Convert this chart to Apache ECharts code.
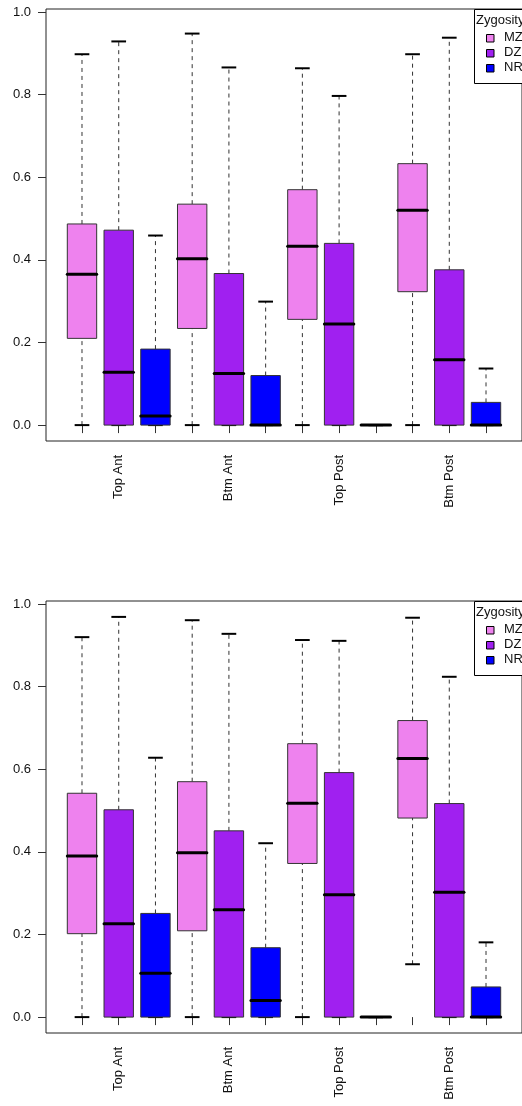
<!DOCTYPE html>
<html>
<head>
<meta charset="utf-8">
<script src="https://cdn.jsdelivr.net/npm/echarts@6/dist/echarts.min.js"></script>
<style>html,body{margin:0;padding:0;background:#fff;}#c{width:522px;height:1106px;}</style>
</head>
<body>
<div id="c"></div>
<script>
// Categories and groups
const categories = ['Top Ant', 'Btm Ant', 'Top Post', 'Btm Post'];
const zygosity = ['MZ', 'DZ', 'NR'];
const zygColors = ['#EE82EE', '#A020F0', '#0000FF'];
const yTicks = [0, 0.2, 0.4, 0.6, 0.8, 1.0];
const xTicks = [1, 2, 3, 4, 5, 6, 7, 8, 9, 10, 11, 12];
const xLabelPos = [2, 5, 8, 11];

// Box stats per category: [min, Q1, median, Q3, max]
// Panel 1 (top)
const p1MZ = [[0, 0.210, 0.365, 0.487, 0.898], [0, 0.234, 0.403, 0.535, 0.948], [0, 0.256, 0.433, 0.570, 0.864], [0, 0.323, 0.520, 0.633, 0.898]];
const p1DZ = [[0, 0, 0.128, 0.472, 0.929], [0, 0, 0.125, 0.367, 0.866], [0, 0, 0.245, 0.440, 0.797], [0, 0, 0.158, 0.376, 0.938]];
const p1NR = [[0, 0, 0.022, 0.184, 0.459], [0, 0, 0, 0.120, 0.299], [0, 0, 0, 0, 0], [0, 0, 0, 0.055, 0.137]];
// Panel 2 (bottom)
const p2MZ = [[0, 0.202, 0.390, 0.542, 0.920], [0, 0.209, 0.398, 0.570, 0.961], [0, 0.372, 0.518, 0.662, 0.913], [0.128, 0.482, 0.626, 0.718, 0.967]];
const p2DZ = [[0, 0, 0.226, 0.502, 0.969], [0, 0, 0.260, 0.451, 0.928], [0, 0, 0.296, 0.592, 0.911], [0, 0, 0.302, 0.517, 0.824]];
const p2NR = [[0, 0, 0.106, 0.251, 0.628], [0, 0, 0.040, 0.168, 0.421], [0, 0, 0, 0, 0], [0, 0, 0, 0.073, 0.181]];

const panels = [[p1MZ, p1DZ, p1NR], [p2MZ, p2DZ, p2NR]];

const FONT = "'Liberation Sans', Arial, sans-serif";
const TXT = '#111';

function renderBox(params, api) {
  const x = api.value(0);
  const v = [1, 2, 3, 4, 5].map(i => api.value(i));
  const cx = api.coord([x, 0])[0];
  const y = v.map(val => api.coord([x, val])[1]);
  const bw = api.size([0.8, 0])[0];
  const sw = api.size([0.4, 0])[0];
  const color = api.visual('color');
  const dash = { stroke: '#333', lineWidth: 1, lineDash: [4, 4] };
  return {
    type: 'group',
    children: [
      { type: 'line', shape: { x1: cx, y1: y[3], x2: cx, y2: y[4] }, style: dash },
      { type: 'line', shape: { x1: cx, y1: y[0], x2: cx, y2: y[1] }, style: dash },
      { type: 'line', shape: { x1: cx - sw / 2, y1: y[4], x2: cx + sw / 2, y2: y[4] }, style: { stroke: '#000', lineWidth: 2 } },
      { type: 'line', shape: { x1: cx - sw / 2, y1: y[0], x2: cx + sw / 2, y2: y[0] }, style: { stroke: '#000', lineWidth: 2 } },
      { type: 'rect', shape: { x: cx - bw / 2, y: y[3], width: bw, height: y[1] - y[3] }, style: { fill: color, stroke: '#333', lineWidth: 1 } },
      { type: 'line', shape: { x1: cx - bw / 2, y1: y[2], x2: cx + bw / 2, y2: y[2] }, style: { stroke: '#000', lineWidth: 3, lineCap: 'round' } }
    ]
  };
}

const gridTops = [9, 601];
const grids = [], xAxes = [], yAxes = [], series = [], graphics = [];

gridTops.forEach((top, pi) => {
  grids.push({ left: 46, top: top, width: 482, height: 432, show: true, borderColor: '#222', borderWidth: 1, backgroundColor: 'transparent' });
  xAxes.push({
    type: 'value', gridIndex: pi, min: 0.02, max: 12.98,
    axisLine: { show: false }, splitLine: { show: false },
    axisTick: { show: true, customValues: xTicks, length: 8, lineStyle: { color: '#333', width: 1 } },
    axisLabel: { customValues: xLabelPos, formatter: val => categories[Math.round((val - 2) / 3)], rotate: 90, margin: 14, fontSize: 13, fontFamily: FONT, color: TXT }
  });
  yAxes.push({
    type: 'value', gridIndex: pi, min: -0.0385, max: 1.0075,
    axisLine: { show: false }, splitLine: { show: false },
    axisTick: { show: true, customValues: yTicks, length: 8, lineStyle: { color: '#333', width: 1 } },
    axisLabel: { customValues: yTicks, formatter: val => val.toFixed(1), margin: 15, fontSize: 13, fontFamily: FONT, color: TXT }
  });
  panels[pi].forEach((stats, zi) => {
    series.push({
      type: 'custom', name: zygosity[zi], xAxisIndex: pi, yAxisIndex: pi,
      itemStyle: { color: zygColors[zi] },
      renderItem: renderBox,
      clip: false,
      encode: { x: 0, y: [1, 2, 3, 4, 5] },
      data: stats.map((s, gi) => [gi * 3 + zi + 1].concat(s))
    });
  });
  // legend box
  graphics.push({ type: 'rect', left: 474, top: top, shape: { width: 70, height: 74 }, style: { fill: '#fff', stroke: '#000', lineWidth: 1 }, z: 100 });
  graphics.push({ type: 'text', left: 476, top: top + 5, style: { text: 'Zygosity', fontSize: 13, fontFamily: FONT, fill: TXT }, z: 101 });
  zygosity.forEach((name, zi) => {
    const cy = top + 29 + zi * 15;
    graphics.push({ type: 'rect', left: 486, top: cy - 4, shape: { width: 7.5, height: 7.5 }, style: { fill: zygColors[zi], stroke: '#000', lineWidth: 1 }, z: 101 });
    graphics.push({ type: 'text', left: 504, top: cy - 7.5, style: { text: name, fontSize: 13, fontFamily: FONT, fill: TXT }, z: 101 });
  });
});

const chart = echarts.init(document.getElementById('c'), null, { renderer: 'canvas' });
chart.setOption({
  backgroundColor: '#fff',
  animation: false,
  grid: grids,
  xAxis: xAxes,
  yAxis: yAxes,
  series: series,
  graphic: graphics
});
</script>
</body>
</html>
